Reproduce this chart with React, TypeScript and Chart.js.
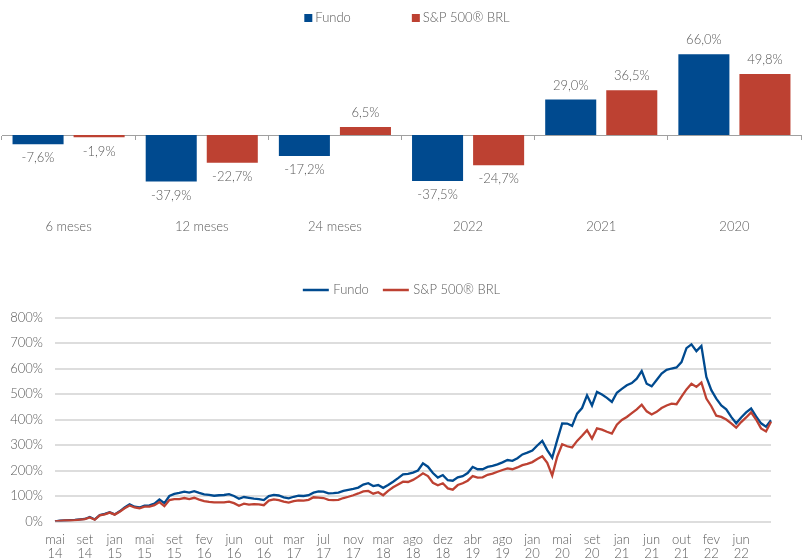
import React, { useEffect, useRef } from 'react';
import { Chart, registerables } from 'chart.js';

Chart.register(...registerables);

// ---------- Data ----------
const seriesNames = ['Fundo', 'S&P 500® BRL'];

const categories = ['6 meses', '12 meses', '24 meses', '2022', '2021', '2020'];
const fundoReturns = [-7.6, -37.9, -17.2, -37.5, 29.0, 66.0];
const spReturns = [-1.9, -22.7, 6.5, -24.7, 36.5, 49.8];

const tickLabels = [
  'mai 14', 'set 14', 'jan 15', 'mai 15', 'set 15', 'fev 16', 'jun 16', 'out 16',
  'mar 17', 'jul 17', 'nov 17', 'mar 18', 'ago 18', 'dez 18', 'abr 19', 'ago 19',
  'jan 20', 'mai 20', 'set 20', 'jan 21', 'jun 21', 'out 21', 'fev 22', 'jun 22',
];
const tickStep = 6;
const yTicks = [0, 100, 200, 300, 400, 500, 600, 700, 800];

const fundoSeries = [
  0, 3, 4, 5, 6, 8, 10, 18, 8, 25,
  30, 36, 28, 40, 55, 67, 58, 55, 62, 63,
  70, 86, 72, 100, 108, 112, 117, 113, 119, 112,
  106, 104, 101, 103, 104, 107, 100, 89, 96, 93,
  90, 88, 84, 100, 104, 102, 95, 91, 97, 101,
  100, 103, 113, 118, 117, 110, 111, 113, 120, 124,
  128, 133, 145, 150, 139, 143, 132, 143, 156, 170,
  185, 187, 192, 200, 228, 215, 190, 172, 182, 162,
  160, 173, 178, 190, 214, 205, 205, 214, 218, 224,
  232, 241, 238, 248, 263, 270, 278, 298, 316, 280,
  250, 319, 385, 384, 375, 423, 445, 495, 455, 508,
  498, 485, 469, 505, 520, 534, 543, 560, 590, 540,
  530, 555, 580, 595, 600, 604, 625, 680, 695, 668,
  688, 567, 515, 482, 455, 440, 410, 385, 408, 428,
  443, 412, 385, 372, 397,
];

const spSeries = [
  0, 2, 4, 4, 5, 7, 9, 16, 7, 24,
  28, 35, 27, 38, 52, 63, 55, 52, 58, 58,
  64, 76, 60, 84, 88, 88, 92, 88, 93, 86,
  80, 77, 75, 75, 75, 78, 72, 62, 70, 66,
  68, 67, 64, 82, 87, 84, 78, 74, 80, 83,
  82, 85, 95, 94, 92, 85, 84, 85, 92, 97,
  103, 110, 118, 120, 109, 115, 103, 120, 134, 145,
  156, 155, 163, 175, 189, 178, 152, 142, 150, 130,
  125, 143, 150, 160, 178, 172, 173, 183, 188, 195,
  202, 208, 205, 212, 221, 226, 233, 245, 256, 230,
  180, 254, 303, 295, 290, 316, 336, 358, 325, 365,
  360, 352, 345, 380, 398, 410, 425, 440, 458, 432,
  420, 430, 445, 455, 462, 460, 490, 518, 540, 528,
  545, 482, 452, 415, 410, 400, 385, 368, 390, 408,
  428, 400, 365, 353, 391,
];

// ---------- Styles ----------
const BLUE = '#004A8F';
const RED = '#BD4132';
const TEXT = '#595959';
const FONT = 'Lato, "Open Sans", sans-serif';
const WEIGHT = 300;

const fmtPct = (v: number) => v.toFixed(1).replace('.', ',') + '%';

const customLegend = {
  id: 'customLegend',
  afterDraw(chart: any, _args: any, opts: any) {
    const ctx = chart.ctx;
    ctx.save();
    ctx.font = `${WEIGHT} 13px ${FONT}`;
    ctx.textBaseline = 'middle';
    ctx.textAlign = 'left';
    const items = chart.data.datasets.map((d: any) => ({
      text: d.label,
      color: opts.kind === 'box' ? d.backgroundColor : d.borderColor,
    }));
    const widths = items.map(
      (it: any) => opts.markerW + opts.markerGap + ctx.measureText(it.text).width
    );
    const total =
      widths.reduce((a: number, b: number) => a + b, 0) + opts.itemGap * (items.length - 1);
    let x = chart.width / 2 + (opts.offsetX || 0) - total / 2;
    const y = opts.y;
    items.forEach((it: any, i: number) => {
      if (opts.kind === 'box') {
        ctx.fillStyle = it.color;
        ctx.fillRect(x, y - 4, 8, 8);
      } else {
        ctx.strokeStyle = it.color;
        ctx.lineWidth = 2.5;
        ctx.beginPath();
        ctx.moveTo(x, y);
        ctx.lineTo(x + opts.markerW, y);
        ctx.stroke();
      }
      ctx.fillStyle = TEXT;
      ctx.fillText(it.text, x + opts.markerW + opts.markerGap, y);
      x += widths[i] + opts.itemGap;
    });
    ctx.restore();
  },
};

const barLabels = {
  id: 'barLabels',
  afterDatasetsDraw(chart: any) {
    const ctx = chart.ctx;
    ctx.save();
    ctx.font = `${WEIGHT} 13px ${FONT}`;
    ctx.fillStyle = TEXT;
    ctx.textAlign = 'center';
    ctx.textBaseline = 'middle';
    chart.data.datasets.forEach((ds: any, di: number) => {
      const meta = chart.getDatasetMeta(di);
      meta.data.forEach((bar: any, i: number) => {
        const v = ds.data[i];
        const y = v >= 0 ? bar.y - 14 : bar.y + 14;
        ctx.fillText(fmtPct(v), bar.x, y);
      });
    });
    ctx.restore();
  },
};

export default function App() {
  const topRef = useRef<HTMLCanvasElement | null>(null);
  const botRef = useRef<HTMLCanvasElement | null>(null);

  useEffect(() => {
    Chart.defaults.font.family = FONT;
    Chart.defaults.font.size = 13;
    (Chart.defaults.font as any).weight = WEIGHT;
    Chart.defaults.color = TEXT;

    const top = new Chart(topRef.current as HTMLCanvasElement, {
      type: 'bar',
      data: {
        labels: categories,
        datasets: [
          {
            label: seriesNames[0],
            data: fundoReturns,
            backgroundColor: BLUE,
            categoryPercentage: 0.917,
            barPercentage: 0.836,
          },
          {
            label: seriesNames[1],
            data: spReturns,
            backgroundColor: RED,
            categoryPercentage: 0.917,
            barPercentage: 0.836,
          },
        ],
      },
      options: {
        responsive: false,
        animation: false,
        events: [],
        layout: { padding: { top: 37, left: 2, right: 2, bottom: 0 } },
        plugins: {
          legend: { display: false },
          tooltip: { enabled: false },
          customLegend: { kind: 'box', markerW: 8, markerGap: 3, itemGap: 61, y: 18, offsetX: 5.5 },
        } as any,
        scales: {
          x: {
            type: 'category',
            grid: { display: false, drawTicks: false },
            border: { display: false },
            ticks: {
              padding: 11,
              color: TEXT,
              font: { size: 13, family: FONT, weight: WEIGHT },
            },
            afterFit: (s: any) => {
              s.height = 36.5;
            },
          },
          x0: {
            type: 'category',
            axis: 'x',
            position: { y: 0 },
            grid: {
              display: true,
              drawOnChartArea: false,
              drawTicks: true,
              tickLength: 4,
              offset: true,
              color: '#A0A0A0',
            },
            border: { display: true, color: '#A0A0A0', width: 1 },
            ticks: { display: false },
          },
          y: { display: false, min: -60, max: 80 },
        } as any,
      },
      plugins: [customLegend, barLabels],
    });

    const bot = new Chart(botRef.current as HTMLCanvasElement, {
      type: 'line',
      data: {
        labels: fundoSeries.map((_, i) => i),
        datasets: [
          {
            label: seriesNames[0],
            data: fundoSeries,
            borderColor: BLUE,
            backgroundColor: BLUE,
            borderWidth: 2.3,
            pointRadius: 0,
            tension: 0,
            order: 1,
          },
          {
            label: seriesNames[1],
            data: spSeries,
            borderColor: RED,
            backgroundColor: RED,
            borderWidth: 2.3,
            pointRadius: 0,
            tension: 0,
            order: 0,
          },
        ],
      },
      options: {
        responsive: false,
        animation: false,
        events: [],
        layout: { padding: { top: 72.5, left: 0, right: 32, bottom: 0 } },
        plugins: {
          legend: { display: false },
          tooltip: { enabled: false },
          customLegend: { kind: 'line', markerW: 26, markerGap: 4.5, itemGap: 14, y: 45, offsetX: 0 },
        } as any,
        scales: {
          x: {
            type: 'category',
            grid: { display: false, drawTicks: false },
            border: { display: false },
            ticks: {
              autoSkip: false,
              maxRotation: 0,
              minRotation: 0,
              padding: 11,
              color: TEXT,
              font: { size: 13, family: FONT, weight: WEIGHT, lineHeight: 1.1 },
              callback: (_v: any, index: number) =>
                index % tickStep === 0 && tickLabels[index / tickStep]
                  ? tickLabels[index / tickStep].split(' ')
                  : '',
            },
            afterFit: (s: any) => {
              s.height = 43.5;
            },
          },
          y: {
            min: yTicks[0],
            max: yTicks[yTicks.length - 1],
            grid: { color: '#DDDDDD', lineWidth: 2, drawTicks: false },
            border: { display: false },
            ticks: {
              stepSize: 100,
              padding: 12,
              color: TEXT,
              font: { size: 13, family: FONT, weight: WEIGHT },
              callback: (v: any) => v + '%',
            },
            afterFit: (s: any) => {
              s.width = 55;
            },
          },
        } as any,
      },
      plugins: [customLegend],
    });

    return () => {
      top.destroy();
      bot.destroy();
    };
  }, []);

  return (
    <div
      style={{
        position: 'absolute',
        left: 0,
        top: 0,
        width: 803,
        height: 558,
        overflow: 'hidden',
        background: '#ffffff',
      }}
    >
      <div style={{ position: 'absolute', left: 0, top: 0, width: 803, height: 245 }}>
        <canvas ref={topRef} width={803} height={245} style={{ display: 'block' }} />
      </div>
      <div style={{ position: 'absolute', left: 0, top: 245, width: 803, height: 320 }}>
        <canvas ref={botRef} width={803} height={320} style={{ display: 'block' }} />
      </div>
    </div>
  );
}
